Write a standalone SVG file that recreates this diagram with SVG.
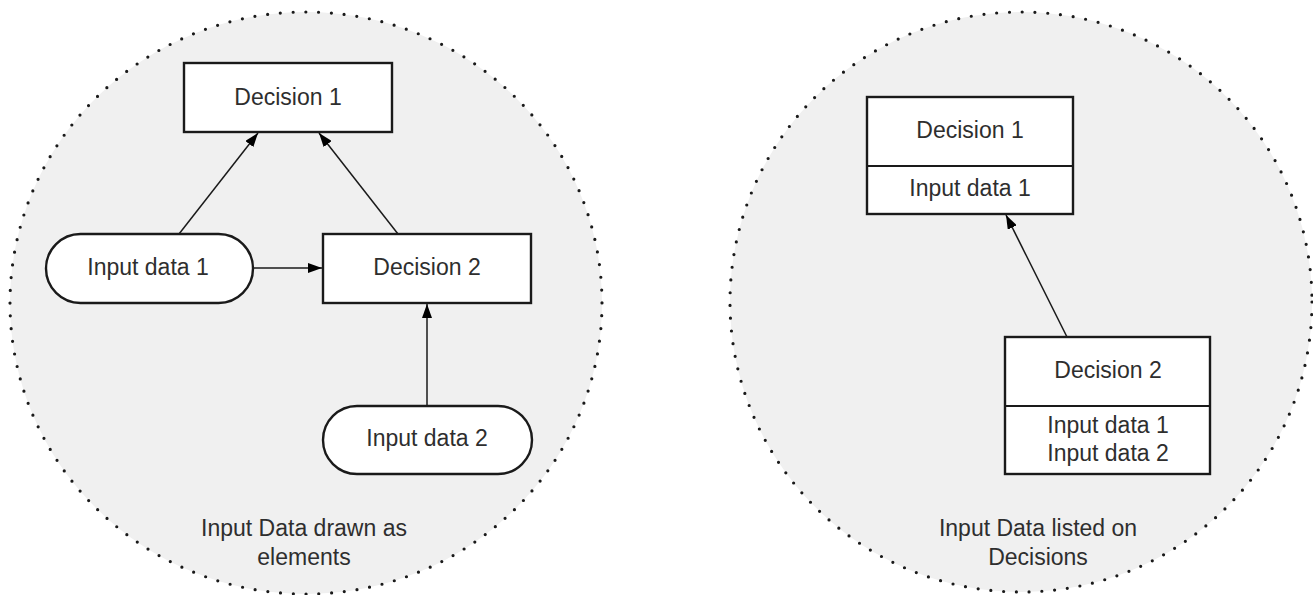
<svg xmlns="http://www.w3.org/2000/svg" width="1313" height="595" viewBox="0 0 1313 595">
<style>
.bg{fill:#ffffff}
.zone{fill:#f0f0f0;stroke:#1a1a1a;stroke-width:3.2;stroke-dasharray:0 12.8;stroke-linecap:round}
.box{fill:#ffffff;stroke:#1a1a1a;stroke-width:2.4}
.div{stroke:#1a1a1a;stroke-width:2}
.lbl{font-family:"Liberation Sans",Arial,sans-serif;font-size:23px;fill:#2e2e2e;text-anchor:middle;dominant-baseline:central}
.edge{stroke:#1a1a1a;stroke-width:1.5;fill:none;marker-end:url(#arr)}
</style>
<defs>
<marker id="arr" viewBox="0 0 14 10" refX="14" refY="5" markerWidth="14" markerHeight="10" markerUnits="userSpaceOnUse" orient="auto">
<path d="M0,0 L14,5 L0,10 z" fill="#000"/>
</marker>
</defs>
<rect class="bg" x="0" y="0" width="1313" height="595"/>
<g id="zone-left">
<ellipse class="zone" cx="306" cy="303" rx="296" ry="291"/>
<text class="lbl" x="304" y="528">Input Data drawn as</text>
<text class="lbl" x="304" y="557">elements</text>
</g>
<g id="zone-right">
<ellipse class="zone" cx="1021" cy="302" rx="291" ry="290"/>
<text class="lbl" x="1038" y="528">Input Data listed on</text>
<text class="lbl" x="1038" y="557">Decisions</text>
</g>
<g id="connectors">
<line class="edge" x1="179" y1="234" x2="258" y2="133"/>
<line class="edge" x1="398" y1="234" x2="319" y2="133"/>
<line class="edge" x1="253" y1="268" x2="322" y2="268"/>
<line class="edge" x1="427" y1="406" x2="427" y2="304"/>
<line class="edge" x1="1067" y1="337" x2="1006" y2="215"/>
</g>
<g id="l-decision1">
<rect class="box" x="184" y="63" width="208" height="69"/>
<text class="lbl" x="288" y="97">Decision 1</text>
</g>
<g id="l-input1">
<rect class="box" x="46" y="234" width="207" height="69" rx="34.5" ry="34.5"/>
<text class="lbl" x="148" y="267">Input data 1</text>
</g>
<g id="l-decision2">
<rect class="box" x="323" y="234" width="208" height="69"/>
<text class="lbl" x="427" y="267">Decision 2</text>
</g>
<g id="l-input2">
<rect class="box" x="323" y="406" width="209" height="68" rx="34" ry="34"/>
<text class="lbl" x="427" y="438">Input data 2</text>
</g>
<g id="r-decision1">
<rect class="box" x="867" y="97" width="206" height="117"/>
<line class="div" x1="867" y1="166" x2="1073" y2="166"/>
<text class="lbl" x="970" y="130">Decision 1</text>
<text class="lbl" x="970" y="188">Input data 1</text>
</g>
<g id="r-decision2">
<rect class="box" x="1005" y="337" width="205" height="137"/>
<line class="div" x1="1005" y1="406" x2="1210" y2="406"/>
<text class="lbl" x="1108" y="370">Decision 2</text>
<text class="lbl" x="1108" y="425">Input data 1</text>
<text class="lbl" x="1108" y="453">Input data 2</text>
</g>
</svg>
